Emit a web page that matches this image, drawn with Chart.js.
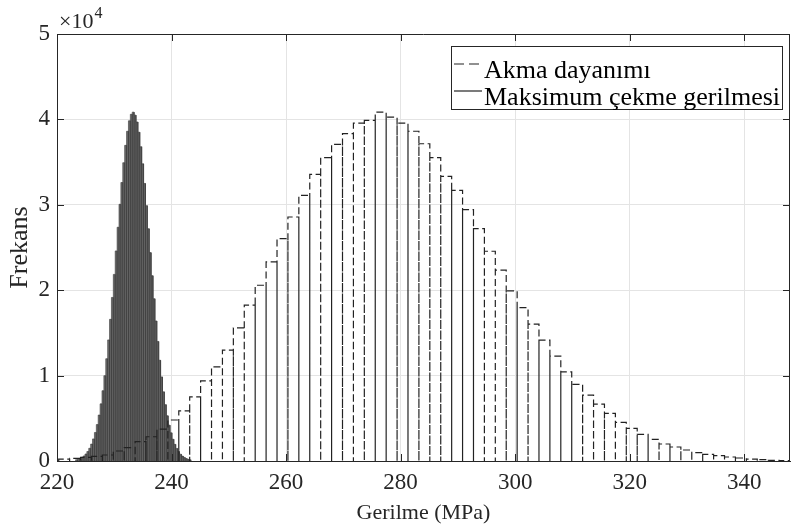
<!DOCTYPE html>
<html lang="tr">
<head>
<meta charset="UTF-8">
<title>Gerilme histogramı</title>
<style>
  body { margin: 0; background: #fff; }
  #wrap { width: 791px; height: 530px; }
</style>
</head>
<body>
<div id="wrap"><canvas id="histChart"></canvas></div>
<script src="https://cdn.jsdelivr.net/npm/chart.js@4.4.0/dist/chart.umd.min.js"></script>
<script>
  // Akma dayanımı histogram (bin start, bin width, counts)
  const akmaStart = 220.3;
  const akmaWidth = 1.906;
  const akmaCounts = [230, 300, 430, 550, 700, 1170, 1560, 2260, 2840, 3740, 4800, 5880, 7520, 9390, 11030, 12980, 15580,
    18250, 20580, 23310, 26050, 28570, 31110, 33570, 35520, 37080, 38330, 39570, 39880, 40850, 40270, 39570, 38610,
    37150, 35520, 33330, 31700, 29440, 27220, 24560, 22340, 19920, 17970, 16020, 14150, 12280, 10440, 8970, 7720,
    6650, 5580, 4520, 3820, 3120, 2540, 1990, 1640, 1290, 970, 780, 620, 470, 350, 230, 150, 80, 50];

  // Maksimum çekme gerilmesi histogram
  const cekmeStart = 223.235;
  const cekmeWidth = 0.33;
  const cekmeCounts = [150, 210, 300, 430, 590, 820, 1110, 1490, 1980, 2590, 3340, 4270, 5380, 6690, 8230, 9990,
    11980, 14180, 16590, 19150, 21850, 24600, 27370, 30060, 32610, 34930, 36960, 38610, 39840, 40600, 40850,
    40500, 39700, 38500, 36800, 34800, 32500, 29900, 27200, 24400, 21700, 19000, 16400, 14000, 11800, 9850,
    8100, 6600, 5300, 4200, 3300, 2550, 1950, 1470, 1100, 800, 580, 420, 290, 200, 140];

  const seriesLabels = ['Akma dayanımı', 'Maksimum çekme gerilmesi'];
  const xTicks = [220, 240, 260, 280, 300, 320, 340];
  const yTicks = [0, 10000, 20000, 30000, 40000, 50000];

  const FONT = "'Liberation Serif', 'Times New Roman', serif";
  const INK = '#262626';

  // each bin as a rectangle outline: up the left edge, across, down the right edge
  const stepPoints = (start, width, counts) => {
    const pts = [];
    counts.forEach((c, i) => {
      const a = start + i * width, b = a + width;
      pts.push({ x: a, y: 0 }, { x: a, y: c }, { x: b, y: c }, { x: b, y: 0 });
    });
    return pts;
  };

  const frame = {
    id: 'frame',
    afterDraw(chart) {
      const { ctx, chartArea: ca, scales } = chart;
      ctx.save();
      ctx.strokeStyle = INK;
      ctx.lineWidth = 1;
      ctx.beginPath();
      ctx.moveTo(ca.left, ca.top + 0.5); ctx.lineTo(ca.right, ca.top + 0.5);
      ctx.moveTo(ca.right - 0.5, ca.top); ctx.lineTo(ca.right - 0.5, ca.bottom);
      const tl = 7;
      xTicks.forEach(v => {
        const px = Math.round(scales.x.getPixelForValue(v)) + 0.5;
        ctx.moveTo(px, ca.bottom); ctx.lineTo(px, ca.bottom - tl);
        ctx.moveTo(px, ca.top); ctx.lineTo(px, ca.top + tl);
      });
      yTicks.forEach(v => {
        const py = Math.round(scales.y.getPixelForValue(v)) + 0.5;
        ctx.moveTo(ca.left, py); ctx.lineTo(ca.left + tl, py);
        ctx.moveTo(ca.right, py); ctx.lineTo(ca.right - tl, py);
      });
      ctx.stroke();

      // exponent label
      ctx.fillStyle = INK;
      ctx.textBaseline = 'alphabetic';
      ctx.font = '22px ' + FONT;
      ctx.fillText('×10', 59, 28);
      const w = ctx.measureText('×10').width;
      ctx.font = '16px ' + FONT;
      ctx.fillText('4', 59 + w + 1, 18);

      // legend box
      const bx = 451, by = 46, bw = 331, bh = 63;
      ctx.fillStyle = '#fff';
      ctx.fillRect(bx, by, bw, bh);
      ctx.strokeStyle = INK;
      ctx.strokeRect(bx + 0.5, by + 0.5, bw, bh);
      chart.data.datasets.forEach((ds, i) => {
        const y = by + 18 + i * 27;
        ctx.beginPath();
        ctx.setLineDash(ds.borderDash ? [10, 5] : []);
        ctx.strokeStyle = '#222';
        ctx.lineWidth = 1.2;
        ctx.moveTo(bx + 3, y); ctx.lineTo(bx + 31, y);
        ctx.stroke();
        ctx.setLineDash([]);
        ctx.fillStyle = '#000';
        ctx.font = '26px ' + FONT;
        ctx.fillText(ds.label, bx + 33, y + 14);
      });
      ctx.restore();
    }
  };

  new Chart(document.getElementById('histChart'), {
    type: 'line',
    data: {
      datasets: [
        {
          label: seriesLabels[0],
          data: stepPoints(akmaStart, akmaWidth, akmaCounts),
          borderColor: '#222',
          borderWidth: 1.2,
          borderDash: [7, 3.5],
          pointRadius: 0,
          fill: false,
          tension: 0
        },
        {
          label: seriesLabels[1],
          data: stepPoints(cekmeStart, cekmeWidth, cekmeCounts),
          borderColor: '#3a3a3a',
          backgroundColor: '#6a6a6a',
          borderWidth: 0.6,
          pointRadius: 0,
          fill: 'origin',
          tension: 0
        }
      ]
    },
    options: {
      responsive: true,
      maintainAspectRatio: false,
      animation: false,
      devicePixelRatio: 1,
      layout: { padding: { top: 34, right: 1, left: 0, bottom: 0 } },
      plugins: { legend: { display: false }, tooltip: { enabled: false } },
      scales: {
        x: {
          type: 'linear',
          min: 220,
          max: 348,
          afterBuildTicks: s => { s.ticks = xTicks.map(v => ({ value: v })); },
          afterFit: s => { s.height = 69; },
          ticks: { font: { family: FONT, size: 23 }, color: INK, padding: 8, maxRotation: 0 },
          grid: { color: '#e4e4e4', drawTicks: false },
          border: { color: INK },
          title: { display: true, text: 'Gerilme (MPa)', font: { family: FONT, size: 22 }, color: INK, padding: { bottom: 4 } }
        },
        y: {
          min: 0,
          max: 50000,
          afterBuildTicks: s => { s.ticks = yTicks.map(v => ({ value: v })); },
          afterFit: s => { s.width = 57; },
          ticks: { font: { family: FONT, size: 23 }, color: INK, padding: 7, callback: v => v / 10000 },
          grid: { color: '#e4e4e4', drawTicks: false },
          border: { color: INK },
          title: { display: true, text: 'Frekans', font: { family: FONT, size: 26 }, color: INK, padding: { top: 5 } }
        }
      }
    },
    plugins: [frame]
  });
</script>
</body>
</html>
